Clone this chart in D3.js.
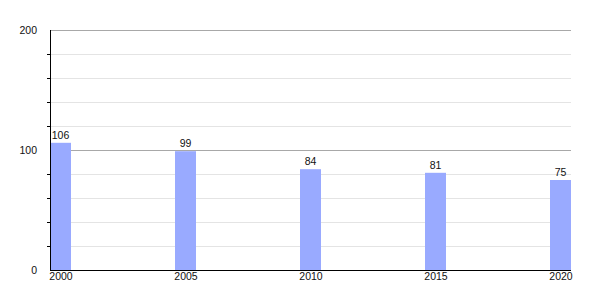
<!DOCTYPE html>
<html>
<head>
<meta charset="utf-8">
<script src="https://cdn.jsdelivr.net/npm/d3@7"></script>
<style>
  body { margin: 0; background: #fff; }
  svg { display: block; font-family: "Liberation Sans", Arial, sans-serif; }
</style>
</head>
<body>
<svg id="canvas"></svg>
<script>
let years = [2000, 2005, 2010, 2015, 2020];
let values = [106, 99, 84, 81, 75];
let majorTicks = [0, 100, 200];
let minorTicks = [20, 40, 60, 80, 120, 140, 160, 180];

let width = 600;
let height = 300;
let plotLeft = 50;
let plotRight = 571;
let plotTop = 30;
let plotBottom = 270;
let barWidth = 21;
let fontSize = 10.5;

let canvas = d3.select('#canvas')
  .attr('width', width)
  .attr('height', height);

let xScale = d3.scaleLinear()
  .domain([2000, 2020])
  .range([plotLeft, plotRight - barWidth]);

let yScale = d3.scaleLinear()
  .domain([0, 200])
  .range([plotBottom, plotTop]);

// grid
canvas.append('g').selectAll('line')
  .data(minorTicks)
  .enter().append('line')
  .attr('x1', plotLeft).attr('x2', plotRight)
  .attr('y1', d => yScale(d) + 0.5).attr('y2', d => yScale(d) + 0.5)
  .attr('stroke', '#e4e4e4');

canvas.append('g').selectAll('line')
  .data(majorTicks.filter(d => d > 0))
  .enter().append('line')
  .attr('x1', plotLeft).attr('x2', plotRight)
  .attr('y1', d => yScale(d) + 0.5).attr('y2', d => yScale(d) + 0.5)
  .attr('stroke', '#a8a8a8');

// bars
canvas.append('g').selectAll('rect')
  .data(values)
  .enter().append('rect')
  .attr('x', (d, i) => xScale(years[i]))
  .attr('y', d => yScale(d))
  .attr('width', barWidth)
  .attr('height', d => plotBottom - yScale(d))
  .attr('fill', '#99aaff');

// value labels
canvas.append('g').selectAll('text')
  .data(values)
  .enter().append('text')
  .attr('x', (d, i) => xScale(years[i]) + barWidth / 2)
  .attr('y', d => yScale(d) - 4)
  .attr('text-anchor', 'middle')
  .attr('font-size', fontSize)
  .attr('fill', '#111')
  .text(d => d);

// y axis
let yAxis = d3.axisLeft(yScale)
  .tickValues(majorTicks)
  .tickSize(0)
  .tickPadding(13);

canvas.append('g')
  .attr('transform', 'translate(' + plotLeft + ',0)')
  .call(yAxis)
  .call(g => g.select('.domain').remove())
  .call(g => g.selectAll('text').attr('font-size', fontSize).attr('fill', '#111').attr('font-family', null));

canvas.append('g').selectAll('line')
  .data(minorTicks)
  .enter().append('line')
  .attr('x1', plotLeft - 3).attr('x2', plotLeft)
  .attr('y1', d => yScale(d) + 0.5).attr('y2', d => yScale(d) + 0.5)
  .attr('stroke', '#000');

canvas.append('line')
  .attr('x1', plotLeft + 0.5).attr('x2', plotLeft + 0.5)
  .attr('y1', plotTop).attr('y2', plotBottom)
  .attr('stroke', '#000');

// x axis
let xAxis = d3.axisBottom(xScale)
  .tickValues(years)
  .tickFormat(d3.format('d'))
  .tickSize(0)
  .tickPadding(3);

canvas.append('g')
  .attr('transform', 'translate(' + (barWidth / 2) + ',' + plotBottom + ')')
  .call(xAxis)
  .call(g => g.select('.domain').remove())
  .call(g => g.selectAll('text').attr('font-size', fontSize).attr('fill', '#111').attr('font-family', null));

canvas.append('line')
  .attr('x1', plotLeft).attr('x2', plotRight)
  .attr('y1', plotBottom + 0.5).attr('y2', plotBottom + 0.5)
  .attr('stroke', '#000');
</script>
</body>
</html>
